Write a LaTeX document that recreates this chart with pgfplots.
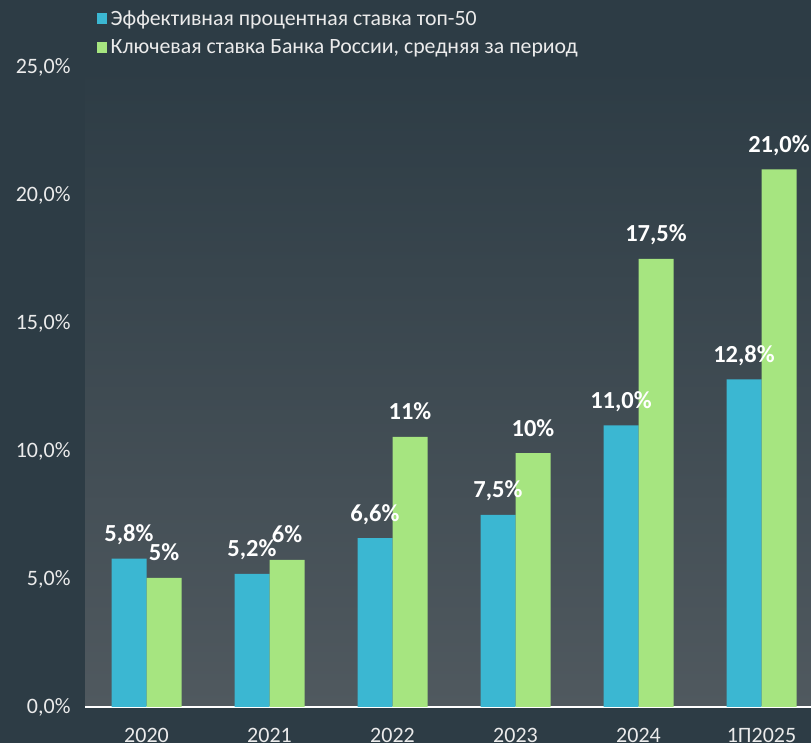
\documentclass[border=0pt]{standalone}
\usepackage{pgfplots}
\pgfplotsset{compat=1.18}
\usepackage{fontspec}
\setmainfont{Carlito}
\definecolor{bg}{RGB}{45,60,69}
\definecolor{plottop}{RGB}{45,60,69}
\definecolor{plotbot}{RGB}{80,89,95}
\definecolor{barcyan}{RGB}{59,183,210}
\definecolor{bargreen}{RGB}{166,229,128}
\begin{document}
\begin{tikzpicture}
\fill[bg] (0pt,0pt) rectangle (811pt,743pt);
\begin{axis}[
  at={(85pt,36pt)}, anchor=south west,
  scale only axis, width=738pt, height=640pt,
  xmin=-0.5, xmax=5.5, ymin=0, ymax=25,
  ybar=0pt, bar width=35pt,
  xtick={0,...,5},
  xticklabels={2020,2021,2022,2023,2024,1П2025},
  ytick={0,5,...,25},
  yticklabel={\pgfmathprintnumber[fixed,fixed zerofill,precision=1,use comma]{\tick}\%},
  /pgf/number format/assume math mode=true,
  ticklabel style={font=\fontsize{22}{26}\selectfont, text=white!92!black},
  yticklabel style={xshift=-11pt},
  xticklabel style={yshift=-18pt},
  axis lines*=left,
  axis line style={-},
  x axis line style={white, line width=1.2pt},
  y axis line style={draw=none},
  major tick length=0pt,
  axis background/.style={top color=plottop, bottom color=plotbot},
  nodes near coords,
  point meta=explicit symbolic,
  every node near coord/.append style={font=\fontsize{24.5}{30}\selectfont\bfseries, text=white, anchor=base, yshift=17pt},
  legend style={at={(0,1)}, anchor=north west, xshift=12pt, yshift=60pt,
    draw=none, fill=none, text=white!92!black, font=\fontsize{21.8}{26}\selectfont,
    row sep=6pt, inner sep=0pt,
    nodes={inner sep=3.5pt}},
  legend cell align=left,
  legend image code/.code={\fill[#1] (0pt,-5.5pt) rectangle (10pt,5.5pt);},
]
\addplot[draw=none, fill=barcyan] coordinates {
  (0,5.8) [5,8\%]
  (1,5.2) [5,2\%]
  (2,6.6) [6,6\%]
  (3,7.5) [7,5\%]
  (4,11.0) [11,0\%]
  (5,12.8) [12,8\%]
};
\addplot[draw=none, fill=bargreen] coordinates {
  (0,5.04) [5\%]
  (1,5.75) [6\%]
  (2,10.55) [11\%]
  (3,9.92) [10\%]
  (4,17.5) [17,5\%]
  (5,21.0) [21,0\%]
};
\legend{Эффективная процентная ставка топ-50, {Ключевая ставка Банка России, средняя за период}}
\end{axis}
\pgfresetboundingbox
\path[use as bounding box] (0pt,0pt) rectangle (811pt,743pt);
\end{tikzpicture}
\end{document}
